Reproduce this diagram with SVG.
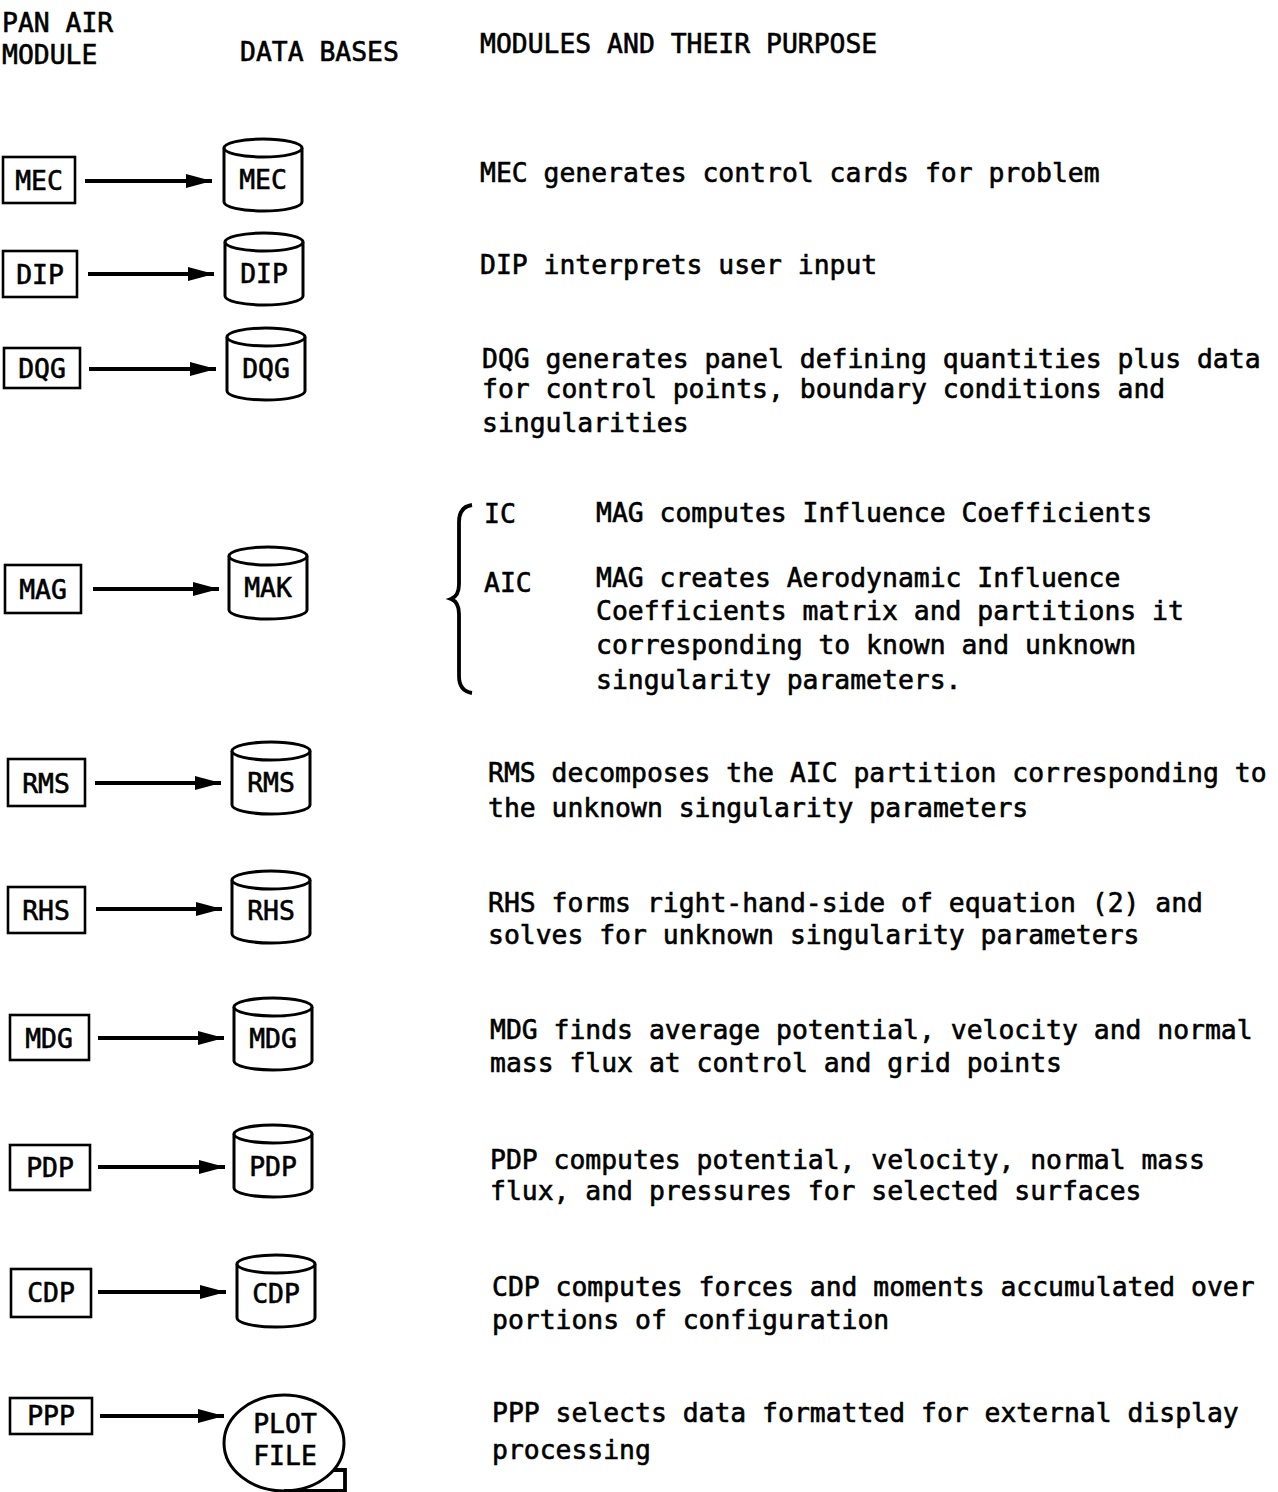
<svg xmlns="http://www.w3.org/2000/svg" xmlns:xlink="http://www.w3.org/1999/xlink" width="1278" height="1492" viewBox="0 0 1278 1492">
<style>
text{font-family:"DejaVu Sans Mono","Liberation Mono",monospace;font-size:26.4px;fill:#000;stroke:#000;stroke-width:0.6}
.lbl{text-anchor:middle;font-size:26.4px;stroke-width:0.6}
.box{fill:#fff;stroke:#000;stroke-width:2.6}
.cyl{fill:#fff;stroke:#000;stroke-width:3}
.conn{stroke:#000;stroke-width:3.8;fill:none}
</style>
<defs>
<marker id="ah" markerUnits="userSpaceOnUse" markerWidth="28" markerHeight="18" refX="26" refY="9" orient="auto">
<path d="M0,2 L26,9 L0,16 Z" fill="#000"/>
</marker>
<g id="cylshape">
<path class="cyl" d="M0,9 A39,9 0 0 1 78,9 L78,63 A39,9 0 0 1 0,63 Z"/>
<path class="cyl" d="M0,9 A39,9 0 0 0 78,9"/>
</g>
</defs>
<rect width="1278" height="1492" fill="#fff"/>

<g id="headers">
<text x="2" y="32">PAN AIR</text>
<text x="2" y="64">MODULE</text>
<text x="240" y="61">DATA BASES</text>
<text x="480" y="53">MODULES AND THEIR PURPOSE</text>
</g>

<g id="connectors">
<line class="conn" x1="85" y1="181" x2="212" y2="181" marker-end="url(#ah)"/>
<line class="conn" x1="88" y1="274" x2="214" y2="274" marker-end="url(#ah)"/>
<line class="conn" x1="89" y1="369" x2="216" y2="369" marker-end="url(#ah)"/>
<line class="conn" x1="93" y1="589" x2="219" y2="589" marker-end="url(#ah)"/>
<line class="conn" x1="95" y1="783" x2="221" y2="783" marker-end="url(#ah)"/>
<line class="conn" x1="96" y1="909" x2="222" y2="909" marker-end="url(#ah)"/>
<line class="conn" x1="98" y1="1038" x2="224" y2="1038" marker-end="url(#ah)"/>
<line class="conn" x1="98" y1="1167" x2="225" y2="1167" marker-end="url(#ah)"/>
<line class="conn" x1="98" y1="1292" x2="226" y2="1292" marker-end="url(#ah)"/>
<line class="conn" x1="100" y1="1416" x2="224" y2="1416" marker-end="url(#ah)"/>
</g>

<g id="mec">
<rect class="box" x="3" y="157" width="72" height="46"/><text class="lbl" x="39" y="190">MEC</text>
<use xlink:href="#cylshape" x="224" y="139"/><text class="lbl" x="263" y="189">MEC</text>
<text x="480" y="182">MEC generates control cards for problem</text>
</g>
<g id="dip">
<rect class="box" x="3" y="251" width="74" height="46"/><text class="lbl" x="40" y="284">DIP</text>
<use xlink:href="#cylshape" x="225" y="233"/><text class="lbl" x="264" y="283">DIP</text>
<text x="480" y="274">DIP interprets user input</text>
</g>
<g id="dqg">
<rect class="box" x="4" y="348" width="76" height="40"/><text class="lbl" x="42" y="378">DQG</text>
<use xlink:href="#cylshape" x="227" y="328"/><text class="lbl" x="266" y="378">DQG</text>
<text x="482" y="368">DQG generates panel defining quantities plus data</text>
<text x="482" y="398">for control points, boundary conditions and</text>
<text x="482" y="432">singularities</text>
</g>
<g id="mag">
<rect class="box" x="5" y="565" width="76" height="48"/><text class="lbl" x="43" y="599">MAG</text>
<use xlink:href="#cylshape" x="229" y="547"/><text class="lbl" x="268" y="597">MAK</text>
<path class="conn" stroke-width="3.2" d="M472,505 Q459,507 459,522 L459,584 Q459,596 451,599 Q459,602 459,614 L459,676 Q459,691 472,693"/>
<text x="484" y="523">IC</text>
<text x="596" y="522">MAG computes Influence Coefficients</text>
<text x="484" y="592">AIC</text>
<text x="596" y="587">MAG creates Aerodynamic Influence</text>
<text x="596" y="620">Coefficients matrix and partitions it</text>
<text x="596" y="654">corresponding to known and unknown</text>
<text x="596" y="689">singularity parameters.</text>
</g>
<g id="rms">
<rect class="box" x="8" y="759" width="77" height="47"/><text class="lbl" x="46" y="793">RMS</text>
<use xlink:href="#cylshape" x="232" y="742"/><text class="lbl" x="271" y="792">RMS</text>
<text x="488" y="782">RMS decomposes the AIC partition corresponding to</text>
<text x="488" y="817">the unknown singularity parameters</text>
</g>
<g id="rhs">
<rect class="box" x="8" y="887" width="77" height="46"/><text class="lbl" x="46" y="920">RHS</text>
<use xlink:href="#cylshape" x="232" y="871"/><text class="lbl" x="271" y="920">RHS</text>
<text x="488" y="912">RHS forms right-hand-side of equation (2) and</text>
<text x="488" y="944">solves for unknown singularity parameters</text>
</g>
<g id="mdg">
<rect class="box" x="10" y="1015" width="79" height="45"/><text class="lbl" x="49" y="1048">MDG</text>
<use xlink:href="#cylshape" x="234" y="998"/><text class="lbl" x="273" y="1048">MDG</text>
<text x="490" y="1039">MDG finds average potential, velocity and normal</text>
<text x="490" y="1072">mass flux at control and grid points</text>
</g>
<g id="pdp">
<rect class="box" x="10" y="1145" width="80" height="45"/><text class="lbl" x="50" y="1177">PDP</text>
<use xlink:href="#cylshape" x="234" y="1125"/><text class="lbl" x="273" y="1176">PDP</text>
<text x="490" y="1169">PDP computes potential, velocity, normal mass</text>
<text x="490" y="1200">flux, and pressures for selected surfaces</text>
</g>
<g id="cdp">
<rect class="box" x="11" y="1269" width="80" height="48"/><text class="lbl" x="51" y="1302">CDP</text>
<use xlink:href="#cylshape" x="237" y="1255"/><text class="lbl" x="276" y="1303">CDP</text>
<text x="492" y="1296">CDP computes forces and moments accumulated over</text>
<text x="492" y="1329">portions of configuration</text>
</g>
<g id="ppp">
<rect class="box" x="10" y="1398" width="82" height="36"/><text class="lbl" x="51" y="1425">PPP</text>
<ellipse class="cyl" cx="284" cy="1443" rx="60" ry="48"/>
<path class="conn" stroke-width="2.8" d="M284,1491 L345,1491 L345,1470 L333,1470"/>
<text class="lbl" x="285" y="1433">PLOT</text>
<text class="lbl" x="285" y="1465">FILE</text>
<text x="492" y="1422">PPP selects data formatted for external display</text>
<text x="492" y="1459">processing</text>
</g>
</svg>
